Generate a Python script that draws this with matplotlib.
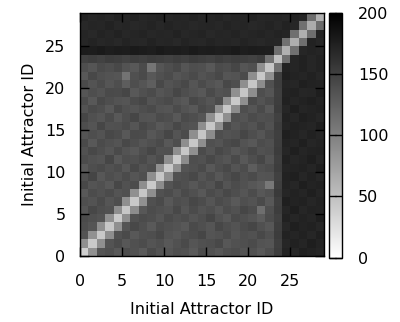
import numpy as np
import matplotlib
matplotlib.use('Agg')
import matplotlib.pyplot as plt

plt.rcParams['font.family'] = ['DejaVu Sans']

# similarity between initial attractors, rows = y (bottom to top), cols = x
attractor_ids = list(range(29))
tick_vals = [0, 5, 10, 15, 20, 25]
cbar_ticks = [0, 50, 100, 150, 200]

rows = [
    [38, 86, 134, 138, 131, 140, 136, 129, 142, 135, 133, 139, 137, 130, 141, 136, 132, 138, 140, 134, 137, 131, 139, 152, 172, 170, 175, 173, 171],
    [87, 42, 88, 135, 141, 132, 137, 140, 134, 138, 131, 136, 142, 133, 137, 139, 143, 132, 136, 138, 141, 135, 133, 150, 170, 174, 171, 176, 172],
    [134, 86, 43, 89, 136, 142, 131, 137, 139, 144, 135, 132, 138, 140, 145, 134, 136, 141, 133, 139, 136, 143, 137, 153, 173, 171, 174, 170, 175],
    [139, 133, 88, 44, 87, 134, 143, 138, 130, 140, 137, 135, 131, 142, 138, 133, 144, 139, 135, 141, 145, 137, 132, 151, 169, 175, 172, 174, 170],
    [141, 138, 135, 87, 42, 88, 136, 141, 139, 133, 142, 137, 140, 134, 139, 146, 136, 131, 142, 138, 134, 128, 140, 149, 174, 170, 173, 171, 176],
    [133, 144, 139, 136, 89, 44, 90, 132, 140, 137, 135, 143, 133, 141, 135, 139, 132, 140, 136, 145, 140, 114, 138, 152, 171, 176, 170, 173, 172],
    [138, 135, 142, 133, 139, 88, 43, 87, 137, 142, 131, 139, 136, 144, 140, 133, 141, 137, 130, 138, 135, 142, 131, 150, 175, 172, 174, 170, 173],
    [131, 140, 136, 141, 134, 137, 87, 44, 88, 136, 140, 133, 142, 137, 131, 141, 136, 143, 139, 133, 140, 132, 136, 154, 170, 173, 171, 175, 171],
    [143, 134, 137, 131, 144, 136, 140, 89, 42, 90, 134, 141, 138, 132, 139, 135, 145, 134, 140, 136, 132, 128, 106, 151, 172, 170, 176, 172, 174],
    [137, 146, 132, 139, 135, 141, 133, 138, 88, 45, 89, 136, 139, 143, 134, 140, 132, 139, 144, 137, 141, 134, 135, 149, 173, 175, 170, 174, 170],
    [130, 139, 142, 136, 140, 132, 143, 135, 139, 87, 43, 88, 134, 137, 142, 131, 139, 143, 134, 140, 127, 137, 140, 152, 171, 172, 174, 171, 175],
    [140, 136, 134, 145, 131, 139, 137, 142, 134, 140, 89, 42, 90, 139, 136, 143, 137, 133, 142, 131, 139, 145, 134, 150, 174, 170, 172, 176, 171],
    [136, 143, 139, 133, 142, 135, 131, 139, 145, 136, 137, 88, 44, 87, 141, 134, 143, 139, 132, 137, 143, 136, 139, 153, 170, 175, 171, 173, 174],
    [142, 131, 141, 137, 134, 143, 139, 133, 137, 142, 131, 139, 89, 43, 89, 137, 134, 141, 144, 135, 131, 140, 137, 151, 172, 171, 175, 170, 172],
    [134, 139, 135, 143, 140, 131, 142, 141, 132, 137, 145, 134, 141, 88, 45, 90, 139, 135, 137, 145, 139, 133, 142, 150, 175, 173, 170, 174, 171],
    [139, 134, 145, 136, 137, 141, 133, 143, 139, 131, 135, 143, 137, 135, 89, 44, 88, 141, 133, 139, 135, 143, 136, 152, 171, 174, 172, 171, 175],
    [145, 137, 133, 141, 131, 139, 145, 135, 134, 141, 139, 131, 142, 139, 133, 87, 43, 89, 137, 134, 141, 137, 139, 149, 173, 170, 175, 173, 170],
    [135, 142, 139, 131, 143, 137, 134, 139, 142, 135, 133, 141, 135, 131, 142, 137, 88, 44, 90, 139, 133, 142, 131, 153, 170, 176, 171, 172, 174],
    [141, 131, 143, 139, 135, 133, 141, 145, 135, 139, 142, 135, 131, 143, 139, 133, 141, 89, 42, 88, 142, 135, 141, 151, 174, 171, 173, 175, 172],
    [133, 139, 135, 142, 141, 145, 131, 137, 141, 133, 137, 145, 139, 135, 131, 142, 135, 137, 87, 45, 89, 139, 133, 150, 172, 174, 170, 171, 176],
    [142, 135, 141, 133, 139, 127, 139, 133, 126, 143, 135, 139, 143, 133, 141, 135, 131, 143, 139, 88, 44, 90, 137, 152, 171, 170, 175, 173, 172],
    [131, 143, 137, 135, 133, 110, 137, 142, 131, 137, 141, 133, 137, 142, 135, 139, 143, 133, 135, 141, 89, 43, 88, 151, 175, 172, 171, 174, 170],
    [139, 133, 142, 139, 143, 135, 131, 141, 108, 133, 139, 143, 133, 139, 137, 131, 141, 139, 145, 133, 137, 88, 45, 112, 173, 171, 174, 170, 173],
    [149, 151, 148, 152, 150, 147, 151, 149, 152, 150, 148, 151, 149, 153, 150, 148, 152, 149, 151, 150, 148, 152, 111, 50, 113, 171, 174, 170, 173],
    [178, 177, 179, 176, 178, 177, 179, 178, 176, 179, 177, 178, 176, 179, 177, 178, 176, 177, 179, 176, 178, 177, 176, 114, 62, 112, 170, 172, 171],
    [170, 172, 169, 171, 168, 172, 170, 169, 173, 170, 171, 168, 172, 170, 169, 172, 170, 171, 169, 172, 170, 168, 171, 170, 111, 64, 113, 173, 170],
    [171, 168, 172, 170, 173, 169, 171, 172, 169, 171, 170, 173, 169, 171, 172, 168, 171, 170, 172, 169, 171, 172, 170, 172, 171, 113, 63, 114, 172],
    [168, 171, 170, 173, 169, 171, 168, 170, 172, 169, 172, 170, 171, 168, 170, 171, 169, 172, 170, 171, 168, 170, 172, 169, 173, 170, 112, 66, 115],
    [172, 169, 171, 168, 172, 170, 173, 169, 171, 172, 169, 171, 170, 172, 169, 171, 172, 169, 171, 170, 172, 169, 170, 171, 169, 172, 170, 114, 61],
]
matrix = np.array(rows)

fig = plt.figure(figsize=(4.0, 3.22), dpi=100)
ax = fig.add_axes([0.2, 0.205, 0.61, 0.755])
cax = fig.add_axes([0.8225, 0.2, 0.0325, 0.76])

edges = np.arange(len(attractor_ids) + 1)
mesh = ax.pcolormesh(edges, edges, matrix, cmap='gray_r', vmin=0, vmax=200)
ax.set_xlim(0, 29)
ax.set_ylim(0, 29)
ax.set_xticks(tick_vals)
ax.set_yticks(tick_vals)
ax.tick_params(direction='in', length=6.5, width=1, labelsize=11.5,
               top=True, right=True, color='black')
ax.tick_params(axis='x', pad=13)
ax.tick_params(axis='y', pad=10.5)
ax.set_xlabel('Initial Attractor ID', fontsize=11.5, labelpad=9)
ax.set_ylabel('Initial Attractor ID', fontsize=11.5, labelpad=6)
for s in ax.spines.values():
    s.set_linewidth(1)

cb = fig.colorbar(mesh, cax=cax, ticks=cbar_ticks)
cb.outline.set_linewidth(1)
cax.tick_params(direction='in', length=5, width=1, labelsize=11.5, pad=11.5,
                left=True, right=True)

fig.savefig('out.png', dpi=100)
